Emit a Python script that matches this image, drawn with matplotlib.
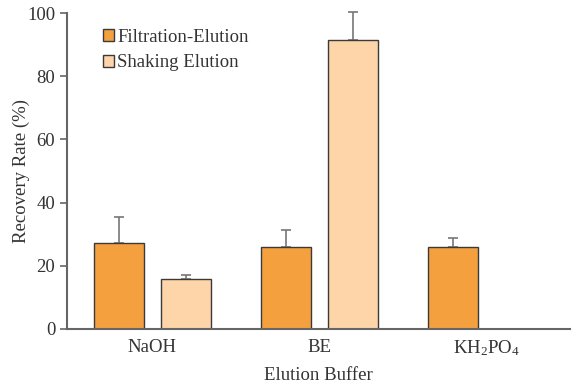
import numpy as np
import matplotlib.pyplot as plt

plt.rcParams['font.family'] = ['Liberation Serif', 'DejaVu Serif']
plt.rcParams['mathtext.fontset'] = 'custom'
plt.rcParams['mathtext.rm'] = 'Liberation Serif'
plt.rcParams['mathtext.it'] = 'Liberation Serif'

buffers = ['NaOH', 'BE', 'KH$_2$PO$_4$']
filtration = [27.2, 26.0, 26.0]
filtration_err = [8.2, 5.3, 2.8]
shaking = [15.8, 91.6]          # no shaking value for KH2PO4
shaking_err = [1.3, 8.8]

x = np.arange(len(buffers))
w = 0.30
off = 0.20
fs = 13.5

fig = plt.figure(figsize=(5.77, 3.87), dpi=100)
ax = fig.add_axes([0.116, 0.150, 0.872, 0.816])

ax.bar(x - off, filtration, w, color='#F5A03F', edgecolor='#3a3a3a', linewidth=1.0,
       label='Filtration-Elution', zorder=2)
ax.bar(x[:len(shaking)] + off, shaking, w, color='#FDD5A8', edgecolor='#3a3a3a', linewidth=1.0,
       label='Shaking Elution', zorder=2)
e1 = ax.errorbar(x - off, filtration, yerr=[np.zeros(3), filtration_err], fmt='none',
                 ecolor='#777777', elinewidth=1.2, capsize=3.5, capthick=1.2, zorder=1)
e2 = ax.errorbar(x[:len(shaking)] + off, shaking, yerr=[np.zeros(2), shaking_err], fmt='none',
                 ecolor='#777777', elinewidth=1.2, capsize=3.5, capthick=1.2, zorder=1)
for c in (e1, e2):
    for art in c.get_children():
        art.set_clip_on(False)

ax.set_xlim(-0.51, 2.50)
ax.set_ylim(0, 100)
ax.set_yticks([0, 20, 40, 60, 80, 100])
ax.set_xticks(x)
ax.set_xticklabels(buffers)
ax.tick_params(axis='x', length=0, pad=7, labelsize=fs, colors='#333333')
ax.tick_params(axis='y', length=5, width=1.2, direction='out', labelsize=fs,
               colors='#333333', color='#666666')

for s in ['top', 'right']:
    ax.spines[s].set_visible(False)
for s in ['left', 'bottom']:
    ax.spines[s].set_color('#666666')
    ax.spines[s].set_linewidth(1.5)

ax.set_ylabel('Recovery Rate (%)', fontsize=fs, color='#333333')
ax.yaxis.set_label_coords(-0.074, 0.5)
ax.set_xlabel('Elution Buffer', fontsize=fs, color='#333333', labelpad=6)

ax.legend(loc='upper left', bbox_to_anchor=(0.072, 0.95), frameon=False, fontsize=fs,
          handlelength=0.6, handleheight=0.6, handletextpad=0.15, labelspacing=0.45,
          borderpad=0, borderaxespad=0, labelcolor='#333333')

fig.savefig('out.png', dpi=100)
